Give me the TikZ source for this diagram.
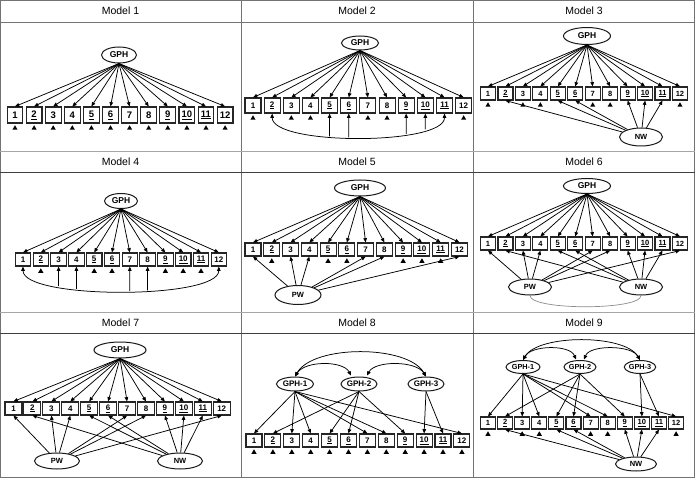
\documentclass[tikz,border=0pt]{standalone}
\usepackage{fontspec}
\setmainfont{Liberation Sans}
\usetikzlibrary{arrows.meta,shapes.geometric,intersections,calc}

\newcommand\itemlbl[1]{\ifcase#1\or 1\or\underline{2}\or 3\or 4\or\underline{5}\or\underline{6}\or 7\or 8\or\underline{9}\or\underline{10}\or\underline{11}\or 12\fi}
% prefix, x0, dx, ytop, w, h, fontsize
\newcommand\boxrow[7]{%
  \foreach \i in {1,...,12}{%
    \node[itembox, minimum width=#5pt, minimum height=#6pt, font=\bfseries\fontsize{#7}{#7}\selectfont] (#1\i) at ({#2+(\i-1)*#3},{#4+#6/2}) {\itemlbl{\i}};
  }}
\newcommand\errs[2]{\foreach \i in {#2}{\node[errtri] (#1e\i) at ([yshift=-1.3pt]#1\i.south) {};}}
\newcommand\loads[3]{\foreach \i in {#3}{\draw[arr] (#1.south) -- (#2\i.north);}}
\newcommand\fromlat[3]{\foreach \i in {#3}{\draw[arr] (#1) -- (#2\i.south);}}

\begin{document}
\begin{tikzpicture}[x=1pt,y=-1pt,
  gridc/.style={draw=black!55, line width=0.9pt},
  itembox/.style={draw=black!85, line width=1.1pt, fill=white, inner sep=0pt},
  latent/.style={ellipse, draw=black!90, line width=1pt, fill=white, inner sep=0pt, font=\bfseries\fontsize{8.5}{8.5}\selectfont},
  arr/.style={-{Triangle[length=4.3pt,width=3.6pt]}, line width=0.75pt},
  cov/.style={{Triangle[length=4.3pt,width=3.6pt]}-{Triangle[length=4.3pt,width=3.6pt]}, line width=0.75pt},
  errtri/.style={regular polygon, regular polygon sides=3, fill=black, inner sep=0pt, minimum size=6pt, anchor=north},
  ttl/.style={font=\fontsize{10.5}{12}\selectfont},
  pn/.style={font=\bfseries\fontsize{7.5}{7.5}\selectfont}]
\useasboundingbox (0,0) rectangle (695,478);
\fill[white] (0,0) rectangle (695,478);

% grid
\draw[gridc] (0.6,0.6) rectangle (694.4,477.4);
\draw[gridc] (241,0) -- (241,478);
\draw[gridc] (473,0) -- (473,478);
\draw[gridc] (0,22) -- (695,22);
\draw[draw=black!35, line width=0.9pt] (0,151) -- (695,151);
\draw[draw=black!75, line width=0.9pt] (0,172) -- (695,172);
\draw[draw=black!35, line width=0.9pt] (0,312) -- (695,312);
\draw[draw=black!75, line width=0.9pt] (0,333) -- (695,333);

% titles
\node[ttl] (t1) at (120.5,11) {Model 1};
\node[ttl] (t2) at (357,11) {Model 2};
\node[ttl] (t3) at (584,11) {Model 3};
\node[ttl] (t4) at (120.5,161.5) {Model 4};
\node[ttl] (t5) at (357,161.5) {Model 5};
\node[ttl] (t6) at (584,161.5) {Model 6};
\node[ttl] (t7) at (120.5,322.5) {Model 7};
\node[ttl] (t8) at (357,322.5) {Model 8};
\node[ttl] (t9) at (584,322.5) {Model 9};

% ---------- Model 1
\node[latent, minimum width=35pt, minimum height=16pt] (g1) at (119,55) {GPH};
\boxrow{m1b}{15}{19.1}{107}{15.8}{16}{9.5}
\errs{m1b}{1,...,12}
\loads{g1}{m1b}{1,...,12}

% ---------- Model 2
\node[latent, minimum width=37pt, minimum height=14pt] (g2) at (360,43) {GPH};
\boxrow{m2b}{253}{19.15}{98}{16}{15}{8}
\errs{m2b}{1,3,4,7,8,12}
\loads{g2}{m2b}{1,...,12}
\draw[cov, name path=c2] (m2b2.south) .. controls +(0,32) and +(0,32) .. (m2b11.south);
\foreach \j in {5,6,9,10}{\path[name path=vert] (m2b\j.south) -- ++(0,60);
  \draw[arr, name intersections={of=c2 and vert}] (intersection-1) -- (m2b\j.south);}

% ---------- Model 3
\node[latent, minimum width=47pt, minimum height=17pt] (g3) at (587,36) {GPH};
\boxrow{m3b}{488}{17.45}{87}{15}{13}{7.5}
\errs{m3b}{1,3,4,7,8,12}
\loads{g3}{m3b}{1,...,12}
\node[latent, pn, minimum width=43pt, minimum height=18pt] (nw3) at (641,137) {NW};
\fromlat{nw3}{m3b}{2,5,6,9,10,11}

% ---------- Model 4
\node[latent, minimum width=33pt, minimum height=15pt] (g4) at (121,201) {GPH};
\boxrow{m4b}{23}{17.8}{253}{15.5}{13}{8}
\errs{m4b}{2,5,6,9,10,11}
\loads{g4}{m4b}{1,...,12}
\draw[cov, name path=c4] (m4b1.south) .. controls +(0,33) and +(0,33) .. (m4b12.south);
\foreach \j in {3,4,7,8}{\path[name path=vert] (m4b\j.south) -- ++(0,60);
  \draw[arr, name intersections={of=c4 and vert}] (intersection-1) -- (m4b\j.south);}

% ---------- Model 5
\node[latent, minimum width=51pt, minimum height=16pt] (g5) at (360,188) {GPH};
\boxrow{m5b}{253}{18.77}{243}{16}{13}{8}
\errs{m5b}{2,5,6,9,10,11}
\loads{g5}{m5b}{1,...,12}
\node[latent, pn, minimum width=46pt, minimum height=19pt] (pw5) at (298,295) {PW};
\fromlat{pw5}{m5b}{1,3,4,7,8,12}

% ---------- Model 6
\node[latent, minimum width=47pt, minimum height=15pt] (g6) at (587,186) {GPH};
\boxrow{m6b}{488}{17.45}{237}{15}{13}{7.5}
\loads{g6}{m6b}{1,...,12}
\node[latent, pn, minimum width=43pt, minimum height=16pt] (pw6) at (530,287) {PW};
\node[latent, pn, minimum width=43pt, minimum height=16pt] (nw6) at (641,287) {NW};
\fromlat{pw6}{m6b}{1,3,4,7,8,12}
\fromlat{nw6}{m6b}{2,5,6,9,10,11}
\draw[black!45, line width=0.7pt] (pw6.south) .. controls +(0,15) and +(0,15) .. (nw6.south);

% ---------- Model 7
\node[latent, minimum width=52pt, minimum height=16pt] (g7) at (120,350) {GPH};
\boxrow{m7b}{13.5}{18.93}{402}{17}{13}{8}
\loads{g7}{m7b}{1,...,12}
\node[latent, pn, minimum width=45pt, minimum height=16pt] (pw7) at (57,461) {PW};
\node[latent, pn, minimum width=45pt, minimum height=16pt] (nw7) at (180,461) {NW};
\fromlat{pw7}{m7b}{1,3,4,7,8,12}
\fromlat{nw7}{m7b}{2,5,6,9,10,11}

% ---------- Model 8
\node[latent, font=\bfseries\fontsize{8}{8}\selectfont, minimum width=37pt, minimum height=14pt] (g81) at (295,384) {GPH-1};
\node[latent, font=\bfseries\fontsize{8}{8}\selectfont, minimum width=36pt, minimum height=14pt] (g82) at (359,384) {GPH-2};
\node[latent, font=\bfseries\fontsize{8}{8}\selectfont, minimum width=36pt, minimum height=14pt] (g83) at (426,384) {GPH-3};
\boxrow{m8b}{254}{18.9}{434}{16}{13}{8}
\errs{m8b}{1,...,12}
\loads{g81}{m8b}{1,3,4,7,8,12}
\loads{g82}{m8b}{2,5,6,9}
\loads{g83}{m8b}{10,11}
\draw[cov] (g81.north) .. controls +(18,-32) and +(-18,-32) .. (g83.north);
\draw[cov] (g81.north) .. controls +(10,-16) and +(-8,-15) .. ([xshift=-8pt,yshift=1pt]g82.north);
\draw[cov] (g83.north) .. controls +(-10,-16) and +(8,-15) .. ([xshift=8pt,yshift=1pt]g82.north);

% ---------- Model 9
\node[latent, font=\bfseries\fontsize{7.3}{7.3}\selectfont, minimum width=34pt, minimum height=13pt] (g91) at (523,367) {GPH-1};
\node[latent, font=\bfseries\fontsize{7.3}{7.3}\selectfont, minimum width=32pt, minimum height=13pt] (g92) at (580,367) {GPH-2};
\node[latent, font=\bfseries\fontsize{7.3}{7.3}\selectfont, minimum width=31pt, minimum height=13pt] (g93) at (640,367) {GPH-3};
\boxrow{m9b}{488}{17.1}{417}{15}{12}{7.5}
\errs{m9b}{1,3,4,7,8,12}
\loads{g91}{m9b}{1,3,4,7,8,12}
\loads{g92}{m9b}{2,5,6,9}
\loads{g93}{m9b}{10,11}
\node[latent, pn, minimum width=41pt, minimum height=14pt] (nw9) at (636,464) {NW};
\fromlat{nw9}{m9b}{2,5,6,9,10,11}
\draw[cov] (g91.north) .. controls +(15,-26) and +(-15,-26) .. (g93.north);
\draw[cov] (g91.north) .. controls +(8,-15) and +(-6,-15) .. ([xshift=-4pt,yshift=0.5pt]g92.north);
\draw[cov] (g93.north) .. controls +(-8,-15) and +(6,-15) .. ([xshift=4pt,yshift=0.5pt]g92.north);
\end{tikzpicture}
\end{document}
